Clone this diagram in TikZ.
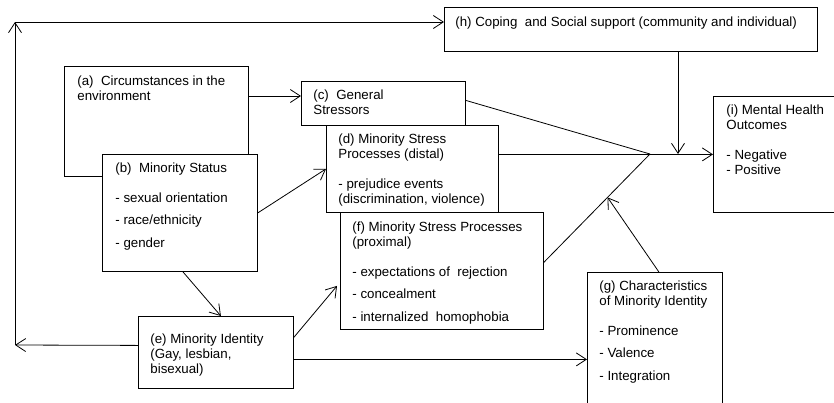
\documentclass[tikz,border=0pt]{standalone}
\usepackage{fontspec}
\setmainfont{Liberation Sans}
\usetikzlibrary{arrows.meta,calc}

\begin{document}
\begin{tikzpicture}[x=1pt, y=-1pt, line width=0.8pt,
    >={Straight Barb[length=10pt,width=13pt]},
    box/.style={draw, fill=white, anchor=north west, inner sep=0pt},
    txt/.style={anchor=north west, inner sep=0pt, align=left,
      font=\fontsize{13.3}{15}\selectfont}]
  \useasboundingbox (0,0) rectangle (834,402);
  \clip (0,0) rectangle (834,402);
  % Boxes, back to front (b sits on a, d on c, f on d).
  \node[box, minimum width=184, minimum height=110] (a) at (64,66) {};
  \node[box, minimum width=155, minimum height=117] (b) at (102,154) {};
  \node[box, minimum width=164, minimum height=44] (c) at (301,81) {};
  \node[box, minimum width=172, minimum height=87] (d) at (326,125) {};
  \node[box, minimum width=203, minimum height=117] (f) at (340,212) {};
  \node[box, minimum width=155, minimum height=72] (e) at (138,316) {};
  \node[box, minimum width=135, minimum height=140] (g) at (587,272) {};
  \node[box, minimum width=373, minimum height=44] (h) at (444,7) {};
  \node[box, minimum width=140, minimum height=116] (i) at (713,96) {};
  % Texts, set in the top left corner of each box.
  \node[txt] (a-txt) at ([shift={(13,9)}]a.north west)
    {(a)\ \ Circumstances in the\\environment};
  \node[txt] (b-txt) at ([shift={(13,8)}]b.north west)
    {(b)\ \ Minority Status\\[15pt]- sexual orientation\\[7.5pt]- race/ethnicity\\[7.5pt]- gender};
  \node[txt] (c-txt) at ([shift={(12,8)}]c.north west)
    {(c)\ \ General\\Stressors};
  \node[txt] (d-txt) at ([shift={(12,8)}]d.north west)
    {(d) Minority Stress\\Processes (distal)\\[15pt]- prejudice events\\(discrimination, violence)};
  \node[txt] (f-txt) at ([shift={(12,9)}]f.north west)
    {(f) Minority Stress Processes\\(proximal)\\[15pt]- expectations of\ \ rejection\\[7.5pt]- concealment\\[7.5pt]- internalized\ \ homophobia};
  \node[txt] (e-txt) at ([shift={(12,17)}]e.north west)
    {(e) Minority Identity\\(Gay, lesbian,\\bisexual)};
  \node[txt] (g-txt) at ([shift={(12,8)}]g.north west)
    {(g) Characteristics\\of Minority Identity\\[15pt]- Prominence\\[7.5pt]- Valence\\[7.5pt]- Integration};
  \node[txt] (h-txt) at ([shift={(11,9)}]h.north west)
    {(h) Coping\ \ and Social support (community and individual)};
  \node[txt] (i-txt) at ([shift={(13,8)}]i.north west)
    {(i) Mental Health\\Outcomes\\[15pt]- Negative\\- Positive};
  % Helper points for the connectors.
  \coordinate (junc) at (650,154);
  \coordinate (tl) at (15,22);
  \coordinate (bl) at (15,345);
  \coordinate (hj) at (678,154);
  \coordinate (ac) at ([shift={(0,30)}]a.north east);
  \coordinate (dj) at ([shift={(0,-14.5)}]d.east);
  \coordinate (fj) at ([shift={(0,-8.5)}]f.east);
  \coordinate (eg) at ([shift={(0,7)}]e.east);
  % Connectors.
  \draw[->] (ac) -- (ac -| c.west);
  \draw[->] (b.east) -- (d.west);
  \draw[->] ([xshift=3pt]b.south) -- ([xshift=5pt]e.north);
  \draw[->] ([shift={(0,-15)}]e.east) -- ([shift={(-3,15)}]f.west);
  \draw[->] ([shift={(0,-7)}]e.west) -- (bl);
  \draw[->] (bl) -- (tl);
  \draw[->] (tl) -- (tl -| h.west);
  \draw[->] (h.south -| hj) -- (hj);
  \draw ([shift={(0,-3)}]c.east) -- (junc);
  \draw[->] (dj) -- (dj -| i.west);
  \draw (fj) -- (junc);
  \draw[->] ([xshift=4pt]g.north) -- ($(fj)!0.6!(junc)$);
  \draw[->] (eg) -- (eg -| g.west);
\end{tikzpicture}
\end{document}
